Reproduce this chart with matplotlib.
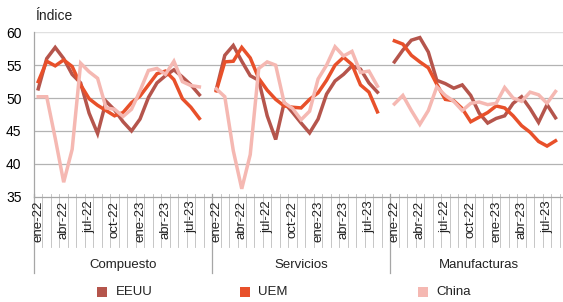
import matplotlib
matplotlib.use("Agg")
import matplotlib.pyplot as plt
from matplotlib.patches import Rectangle
import matplotlib.transforms as mtransforms

plt.rcParams['font.family'] = ['Liberation Sans', 'DejaVu Sans']

groups = ["Compuesto", "Servicios", "Manufacturas"]
months = ["ene-22", "feb-22", "mar-22", "abr-22", "may-22", "jun-22", "jul-22", "ago-22",
          "sep-22", "oct-22", "nov-22", "dic-22", "ene-23", "feb-23", "mar-23", "abr-23",
          "may-23", "jun-23", "jul-23", "ago-23"]
shown_labels = ["ene-22", "abr-22", "jul-22", "oct-22", "ene-23", "abr-23", "jul-23"]

eeuu_comp = [51.4, 56.0, 57.7, 56.0, 53.6, 52.3, 47.7, 44.6, 49.5, 48.2, 46.4, 45.0,
             46.8, 50.1, 52.3, 53.4, 54.3, 53.2, 52.0, 50.5]
uem_comp = [52.5, 55.6, 54.9, 55.8, 54.8, 52.0, 49.9, 48.9, 48.1, 47.3, 47.8, 49.3,
            50.3, 52.0, 53.7, 54.1, 52.8, 49.9, 48.6, 46.9]
china_comp = [50.2, 50.2, 43.9, 37.2, 42.2, 55.3, 54.0, 53.0, 48.5, 48.3, 47.2, 48.3,
              51.1, 54.2, 54.5, 53.6, 55.6, 52.5, 51.9, 51.7]

eeuu_serv = [51.3, 56.5, 58.0, 55.6, 53.4, 52.7, 47.3, 43.7, 49.3, 47.8, 46.2, 44.7,
             46.8, 50.6, 52.6, 53.6, 54.9, 54.4, 52.3, 50.9]
uem_serv = [51.1, 55.5, 55.6, 57.7, 56.1, 53.0, 51.2, 49.8, 48.8, 48.6, 48.5, 49.8,
            50.8, 52.7, 55.0, 56.2, 55.1, 52.0, 50.9, 47.9]
china_serv = [51.4, 50.2, 42.0, 36.2, 41.4, 54.5, 55.5, 55.0, 49.3, 48.4, 46.7, 48.0,
              52.9, 55.0, 57.8, 56.4, 57.1, 53.9, 54.1, 51.8]

eeuu_manu = [55.5, 57.3, 58.8, 59.2, 57.0, 52.7, 52.2, 51.5, 52.0, 50.4, 47.7, 46.2,
             46.9, 47.3, 49.2, 50.2, 48.4, 46.3, 49.0, 47.0]
uem_manu = [58.7, 58.2, 56.5, 55.5, 54.6, 52.1, 49.8, 49.6, 48.4, 46.4, 47.1, 47.8,
            48.8, 48.5, 47.3, 45.8, 44.8, 43.4, 42.7, 43.5]
china_manu = [49.1, 50.4, 48.1, 46.0, 48.1, 51.7, 50.4, 49.5, 48.1, 49.2, 49.4, 49.0,
              49.2, 51.6, 50.0, 49.5, 50.9, 50.5, 49.2, 51.0]

series = {
    "EEUU": [eeuu_comp, eeuu_serv, eeuu_manu],
    "UEM": [uem_comp, uem_serv, uem_manu],
    "China": [china_comp, china_serv, china_manu],
}
colors = {"EEUU": "#B5554C", "UEM": "#E8502A", "China": "#F5B8B2"}

W, H = 563, 302
fig = plt.figure(figsize=(W / 100, H / 100), dpi=100)
left_px, right_px, top_px, bot_px = 34, 563, 32.3, 196.7
ax = fig.add_axes([left_px / W, 1 - bot_px / H, (right_px - left_px) / W, (bot_px - top_px) / H])

n = len(months)
period = n + 1
cat_px = 8.48
ax.set_xlim(-0.5, -0.5 + (right_px - left_px) / cat_px)
ax.set_ylim(35, 60)

# gridlines
for v in [40, 45, 50, 55]:
    ax.axhline(v, color="#b3b3b3", lw=0.9, zorder=0)
ax.axhline(60, color="#e0e0e0", lw=1.0, zorder=0)

for name in ["EEUU", "UEM", "China"]:
    for g, vals in enumerate(series[name]):
        xs = [g * period + i for i in range(n)]
        ax.plot(xs, vals, color=colors[name], lw=2.5, solid_joinstyle="miter", zorder=3)

ax.set_yticks([35, 40, 45, 50, 55, 60])
ax.set_yticklabels(["35", "40", "45", "50", "55", "60"], fontsize=10)
ax.tick_params(axis="y", length=0, pad=9)
ax.set_xticks([])
for s in ["top", "right"]:
    ax.spines[s].set_visible(False)
ax.spines["left"].set_color("#a6a6a6")
ax.spines["bottom"].set_color("#a6a6a6")
ax.spines["left"].set_linewidth(0.9)
ax.spines["bottom"].set_linewidth(0.9)

trans = mtransforms.blended_transform_factory(ax.transData, ax.transAxes)
ah = bot_px - top_px
y_tick_top = 3.0 / ah
y_cat_bot = -(247 - bot_px) / ah
y_grp_bot = -(273 - bot_px) / ah
total_cats = 3 * period
for b in range(total_cats + 1):
    xb = b - 0.5
    if b % period == 0:
        ax.plot([xb, xb], [y_tick_top, y_grp_bot], transform=trans, color="#a6a6a6",
                lw=0.9, clip_on=False)
    else:
        ax.plot([xb, xb], [y_tick_top, y_cat_bot], transform=trans, color="#bdbdbd",
                lw=0.6, clip_on=False)

for g, gname in enumerate(groups):
    for i, m in enumerate(months):
        if m in shown_labels:
            ax.text(g * period + i, -4.0 / ah, m, transform=trans, rotation=90,
                    ha="center", va="top", fontsize=9.5, color="#222222")
    ax.text(g * period + (period - 1) / 2, -(265 - bot_px) / ah, gname, transform=trans,
            ha="center", va="center", fontsize=9.5, color="#222222")

fig.text(35 / W, 1 - 16 / H, "Índice", ha="left", va="center", fontsize=10, color="#222222")

# legend
leg = [("EEUU", 97, 116), ("UEM", 240, 258), ("China", 418, 436)]
for name, mx, tx in leg:
    fig.patches.append(Rectangle((mx / W, 1 - 297 / H), 10 / W, 10 / H, transform=fig.transFigure,
                                 facecolor=colors[name], edgecolor="none"))
    fig.text(tx / W, 1 - 292 / H, name, ha="left", va="center", fontsize=9.5, color="#222222")

fig.savefig("out.png", dpi=100)
